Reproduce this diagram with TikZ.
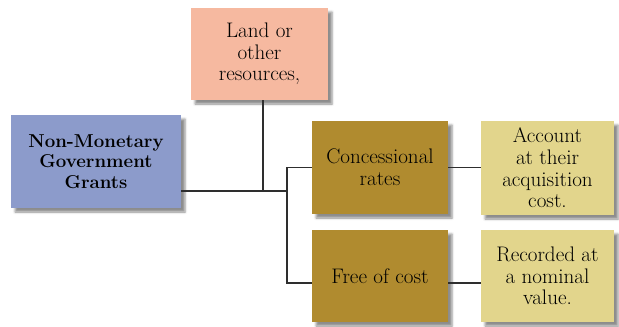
\documentclass[tikz,border=0pt]{standalone}
\usetikzlibrary{shadows.blur, calc}
\definecolor{grantblue}{HTML}{8C9BCB}
\definecolor{landpink}{HTML}{F6B9A0}
\definecolor{waygold}{HTML}{B08B2F}
\definecolor{notesand}{HTML}{E2D58C}
\definecolor{wireink}{HTML}{2E2E2E}

\begin{document}
\begin{tikzpicture}[x=0.75pt, y=-0.75pt,
    card/.style={rectangle, align=center, inner sep=2pt,
      font=\rmfamily\fontsize{15.8}{16.2}\selectfont,
      blur shadow={shadow xshift=3pt, shadow yshift=-3pt, shadow opacity=45}},
    wire/.style={wireink, line width=1.1pt}]
  \useasboundingbox (0,0) rectangle (619,326);
  % boxes
  \node[card, fill=landpink, minimum width=102.75pt, minimum height=69pt]
    (land) at (259.5,54) {Land or\\other\\resources,};
  \node[card, fill=grantblue, minimum width=127.5pt, minimum height=69.75pt,
        font=\rmfamily\fontsize{14}{15.5}\selectfont\bfseries]
    (grants) at (96,161.5) {Non-Monetary\\Government\\Grants};
  \node[card, fill=waygold, minimum width=102pt, minimum height=69.75pt]
    (conc) at (380,167.5) {Concessional\\rates};
  \node[card, fill=waygold, minimum width=102pt, minimum height=69pt]
    (free) at (380,276) {Free of cost};
  \node[card, fill=notesand, minimum width=99.75pt, minimum height=70.5pt]
    (acct) at (547.5,168) {Account\\at their\\acquisition\\cost.};
  \node[card, fill=notesand, minimum width=99.75pt, minimum height=69pt]
    (rec) at (547.5,276) {Recorded at\\a nominal\\value.};
  % connectors
  \coordinate (meet) at (263,191);
  \coordinate (split) at (287,191);
  \coordinate (lowrail) at (287,283);
  \draw[wire] (grants.east |- split) -- (split);
  \draw[wire] (land.south -| meet) -- (meet);
  \draw[wire] (conc.west) -| (lowrail) -- (lowrail -| free.west);
  \draw[wire] (conc.east) -- (acct.west |- conc.east);
  \draw[wire] (free.east |- lowrail) -- (rec.west |- lowrail);
\end{tikzpicture}
\end{document}
